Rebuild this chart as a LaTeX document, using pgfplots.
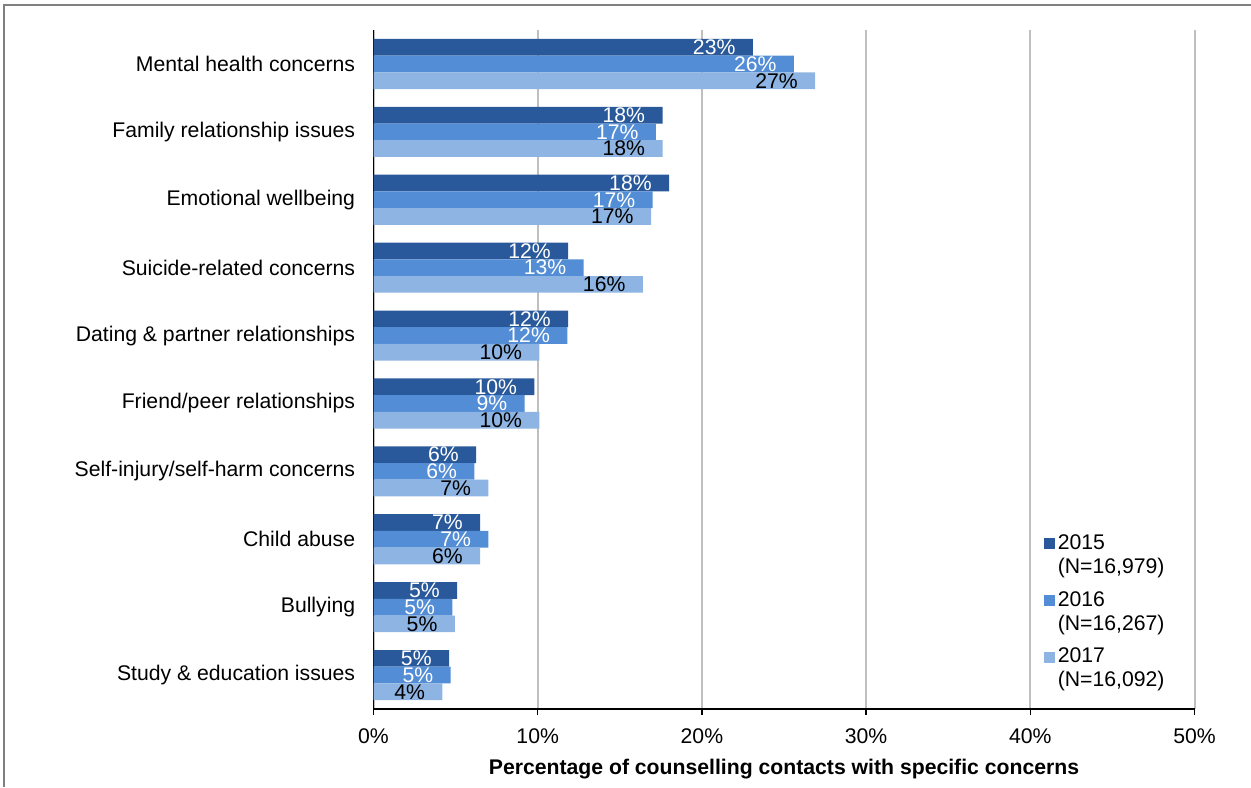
\documentclass[border=0pt]{standalone}
\usepackage{pgfplots}
\pgfplotsset{compat=1.18}
\usepackage{fontspec}
\setmainfont{Liberation Sans}
\definecolor{c15}{HTML}{29599A}
\definecolor{c16}{HTML}{538DD5}
\definecolor{c17}{HTML}{8DB4E2}
\definecolor{gridc}{HTML}{BFBFBF}
\definecolor{framec}{HTML}{808080}
\begin{document}
\begin{tikzpicture}[font=\fontsize{10.6}{12}\selectfont]
\useasboundingbox (0,0) rectangle (625.5pt,-393.5pt);
\draw[framec, line width=1pt] (2pt,-393.5pt) -- (2pt,-2.5pt) -- (625.5pt,-2.5pt);
\begin{axis}[
  at={(186.75pt,-354.5pt)}, anchor=south west,
  scale only axis, width=410.5pt, height=339.5pt,
  xbar=0pt, bar width=8.35pt,
  xmin=0, xmax=50, ymin=-0.5, ymax=9.5,
  y dir=reverse,
  axis x line*=bottom, axis y line*=left,
  axis line style={black, line width=0.75pt},
  xtick={0,10,...,50},
  xticklabels={0\%,10\%,20\%,30\%,40\%,50\%},
  xtick style={black, line width=0.75pt},
  tick align=outside,
  major tick length=3pt,
  xmajorgrids, grid style={gridc, line width=1pt},
  xticklabel style={anchor=north, inner sep=0pt, yshift=-6.5pt},
  ytick={0,...,9},
  yticklabels={Mental health concerns, Family relationship issues, Emotional wellbeing, Suicide-related concerns, Dating \& partner relationships, Friend/peer relationships, Self-injury/self-harm concerns, Child abuse, Bullying, Study \& education issues},
  ytick style={draw=none},
  yticklabel style={anchor=east, inner sep=0pt, xshift=-6pt},
  minor ytick={-0.5,0.5,...,9.5},
  minor tick length=3.5pt,
  minor y tick style={black, line width=0.75pt},
  xlabel={\textbf{Percentage of counselling contacts with specific concerns}},
  xlabel style={at={(axis description cs:0.5,0)}, anchor=north, inner sep=0pt, yshift=-25pt},
  point meta=explicit symbolic,
  nodes near coords={\pgfplotspointmeta\%},
  nodes near coords style={anchor=east, inner sep=0pt, xshift=-8.5pt},
  legend style={draw=none, fill=none, at={(axis description cs:0.816,0.262)}, anchor=north west, inner sep=0pt, row sep=4.5pt, column sep=0pt, nodes={align=left, inner sep=1.5pt}},
  legend cell align=left,
  legend image code/.code={\fill[#1, draw=none] (0pt,3.25pt) rectangle (5.5pt,8.75pt);},
]
\addplot[fill=c15, draw=none, bar shift=8.35pt, nodes near coords style={white}] coordinates {
(23.1,0) [23] (17.6,1) [18] (18.0,2) [18] (11.85,3) [12] (11.85,4) [12]
(9.8,5) [10] (6.25,6) [6] (6.5,7) [7] (5.1,8) [5] (4.6,9) [5]};
\addlegendentry{2015\\(N=16,979)}
\addplot[fill=c16, draw=none, bar shift=0pt, nodes near coords style={white}] coordinates {
(25.6,0) [26] (17.2,1) [17] (17.0,2) [17] (12.8,3) [13] (11.8,4) [12]
(9.2,5) [9] (6.15,6) [6] (7.0,7) [7] (4.8,8) [5] (4.7,9) [5]};
\addlegendentry{2016\\(N=16,267)}
\addplot[fill=c17, draw=none, bar shift=-8.35pt, nodes near coords style={black}] coordinates {
(26.9,0) [27] (17.6,1) [18] (16.9,2) [17] (16.4,3) [16] (10.1,4) [10]
(10.1,5) [10] (7.0,6) [7] (6.5,7) [6] (4.95,8) [5] (4.2,9) [4]};
\addlegendentry{2017\\(N=16,092)}
\end{axis}
\end{tikzpicture}
\end{document}
